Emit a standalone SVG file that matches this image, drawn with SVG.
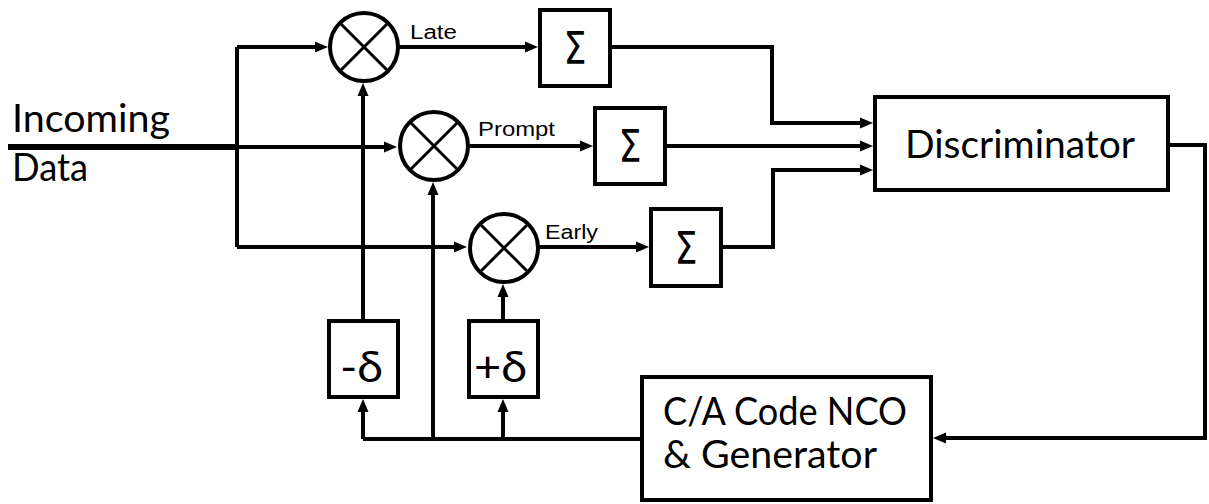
<svg xmlns="http://www.w3.org/2000/svg" width="1209" height="504" viewBox="0 0 1209 504">
<style>
.box{fill:#fff;stroke:#000;stroke-width:4}
.mix{fill:#fff;stroke:#000;stroke-width:4}
.x{stroke:#000;stroke-width:3}
.w{fill:none;stroke:#000;stroke-width:4;stroke-linejoin:miter}
.a{marker-end:url(#ah)}
.big{font-family:Lato,"Liberation Sans",Arial,sans-serif;font-size:39px;fill:#000}
.sm{font-family:"Liberation Sans",Arial,sans-serif;font-size:20px;fill:#000}
.sig{font-family:"DejaVu Sans","Liberation Sans",sans-serif;font-size:44px;fill:#000}
.del{font-family:Lato,"Liberation Sans",Arial,sans-serif;font-size:42px;fill:#000}
</style>
<defs>
<marker id="ah" markerUnits="userSpaceOnUse" markerWidth="14" markerHeight="12" viewBox="0 0 14 12" refX="6" refY="6" orient="auto">
<path d="M0,0.5 L13,6 L0,11.5 z" fill="#000"/>
</marker>
</defs>
<rect width="1209" height="504" fill="#fff"/>

<g id="connectors">
<line x1="8" y1="147" x2="237" y2="147" stroke="#000" stroke-width="6"/>
<path class="w" d="M237,47 V247"/>
<path class="w a" d="M237,47 H321"/>
<path class="w a" d="M237,147 H390"/>
<path class="w a" d="M237,247 H460"/>
<path class="w a" d="M398,47 H531"/>
<path class="w a" d="M468,146 H586"/>
<path class="w a" d="M538,247 H642"/>
<path class="w a" d="M612,47 H772 V123 H866"/>
<path class="w a" d="M667,146 H866"/>
<path class="w a" d="M723,247 H773 V170 H866"/>
<path class="w a" d="M1170,145 H1205 V438 H940"/>
<path class="w" d="M640,439 H363"/>
<path class="w a" d="M363,439 V406"/>
<path class="w a" d="M503,439 V406"/>
<path class="w a" d="M433,439 V189"/>
<path class="w a" d="M363,319 V90"/>
<path class="w a" d="M503,319 V291"/>
</g>

<g id="input-label">
<text class="big" x="12" y="132" textLength="158" lengthAdjust="spacingAndGlyphs">Incoming</text>
<text class="big" x="12" y="181" textLength="76" lengthAdjust="spacingAndGlyphs">Data</text>
</g>

<g id="mixer-late">
<circle class="mix" cx="364" cy="47" r="34"/>
<line class="x" x1="340" y1="23" x2="388" y2="71"/>
<line class="x" x1="388" y1="23" x2="340" y2="71"/>
<text class="sm" x="410" y="39" textLength="47" lengthAdjust="spacingAndGlyphs">Late</text>
</g>
<g id="mixer-prompt">
<circle class="mix" cx="434" cy="146" r="34"/>
<line class="x" x1="410" y1="122" x2="458" y2="170"/>
<line class="x" x1="458" y1="122" x2="410" y2="170"/>
<text class="sm" x="478" y="136" textLength="77" lengthAdjust="spacingAndGlyphs">Prompt</text>
</g>
<g id="mixer-early">
<circle class="mix" cx="504" cy="248" r="34"/>
<line class="x" x1="480" y1="224" x2="528" y2="272"/>
<line class="x" x1="528" y1="224" x2="480" y2="272"/>
<text class="sm" x="545" y="239" textLength="53" lengthAdjust="spacingAndGlyphs">Early</text>
</g>

<g id="sum-late">
<rect class="box" x="540" y="10" width="70" height="76"/>
<text class="sig" x="575" y="64" text-anchor="middle" textLength="23" lengthAdjust="spacingAndGlyphs">Σ</text>
</g>
<g id="sum-prompt">
<rect class="box" x="595" y="108" width="70" height="76"/>
<text class="sig" x="630" y="162" text-anchor="middle" textLength="23" lengthAdjust="spacingAndGlyphs">Σ</text>
</g>
<g id="sum-early">
<rect class="box" x="651" y="209" width="70" height="77"/>
<text class="sig" x="686" y="264" text-anchor="middle" textLength="23" lengthAdjust="spacingAndGlyphs">Σ</text>
</g>

<g id="discriminator">
<rect class="box" x="875" y="97" width="293" height="93"/>
<text class="big" x="905" y="158" textLength="230" lengthAdjust="spacingAndGlyphs">Discriminator</text>
</g>

<g id="minus-delta">
<rect class="box" x="329" y="321" width="69" height="76"/>
<text class="del" x="340" y="382" textLength="43" lengthAdjust="spacingAndGlyphs">-δ</text>
</g>
<g id="plus-delta">
<rect class="box" x="469" y="321" width="69" height="76"/>
<text class="del" x="474" y="382" textLength="53" lengthAdjust="spacingAndGlyphs">+δ</text>
</g>

<g id="nco">
<rect class="box" x="642" y="377" width="289" height="123"/>
<text class="big" x="663" y="425" textLength="244" lengthAdjust="spacingAndGlyphs">C/A Code NCO</text>
<text class="big" x="663" y="468" textLength="214" lengthAdjust="spacingAndGlyphs">&amp; Generator</text>
</g>
</svg>
